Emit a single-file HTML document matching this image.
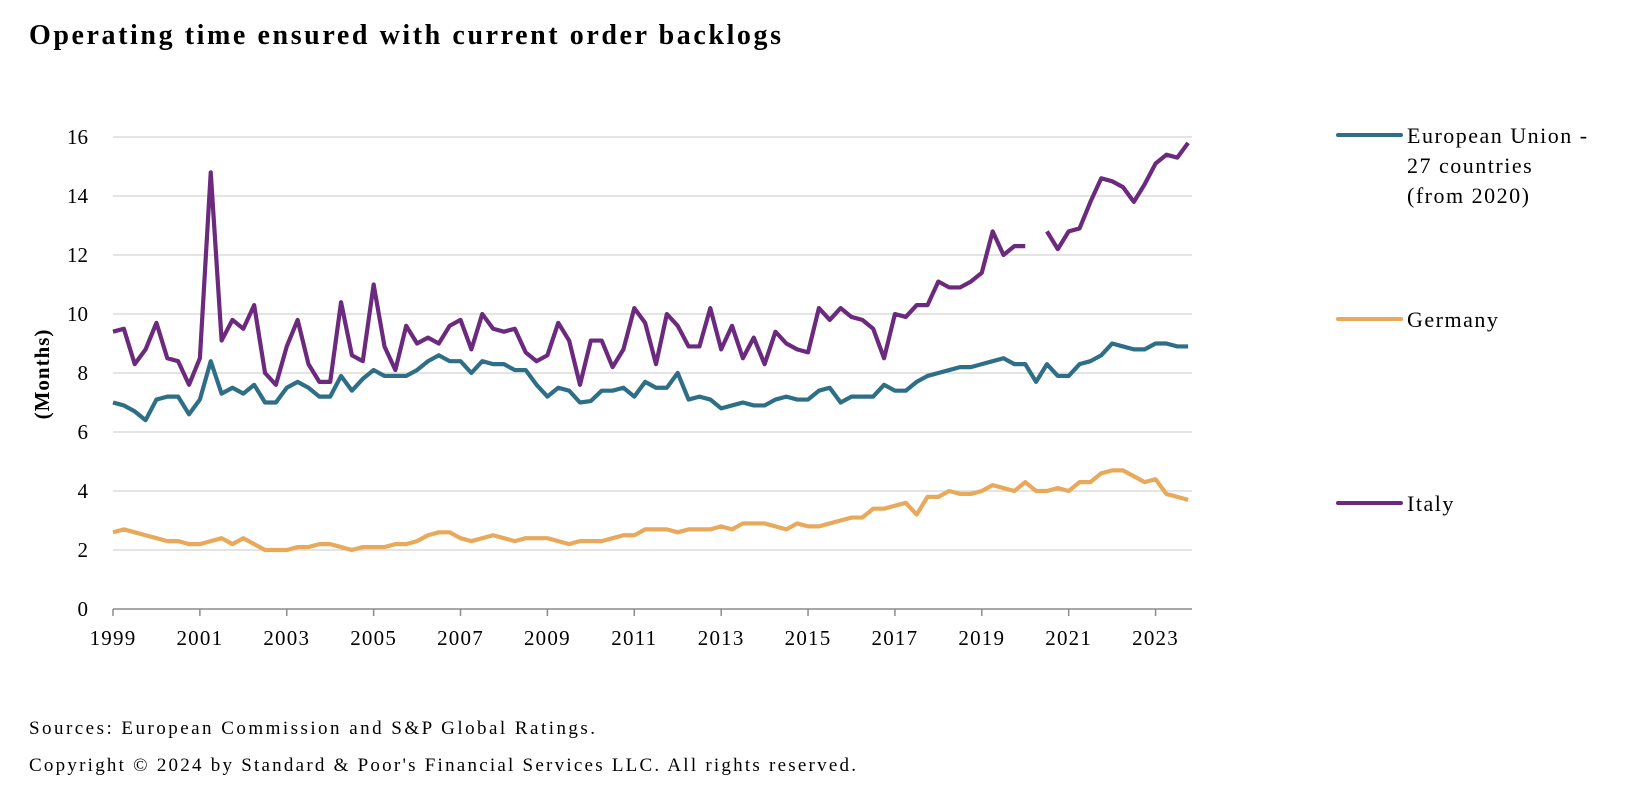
<!DOCTYPE html>
<html><head><meta charset="utf-8"><style>
html,body{margin:0;padding:0;background:#fff;}
svg{display:block;font-family:"Liberation Serif",serif;}
</style></head><body>
<svg id="chart" width="1630" height="804" viewBox="0 0 1630 804">
<text x="29" y="44" font-size="28" font-weight="bold" textLength="752" lengthAdjust="spacing">Operating time ensured with current order backlogs</text>
<g id="grid"></g>
<g id="yticks"></g>
<g id="xticks"></g>
<text transform="translate(49,374) rotate(-90)" text-anchor="middle" font-size="21" font-weight="bold" letter-spacing="1">(Months)</text>
<g id="series"></g>
<g>
<g>
<line x1="1338" y1="135" x2="1401" y2="135" stroke="#2e6f87" stroke-width="4" stroke-linecap="round"/>
<text x="1407" y="143" font-size="22" letter-spacing="1.5">European Union -</text>
<text x="1407" y="173" font-size="22" letter-spacing="1.5">27 countries</text>
<text x="1407" y="203" font-size="22" letter-spacing="1.5">(from 2020)</text>
</g>
<g>
<line x1="1338" y1="319" x2="1401" y2="319" stroke="#e8a95a" stroke-width="4" stroke-linecap="round"/>
<text x="1407" y="327" font-size="22" letter-spacing="1.5">Germany</text>
</g>
<g>
<line x1="1338" y1="503" x2="1401" y2="503" stroke="#6b2a7e" stroke-width="4" stroke-linecap="round"/>
<text x="1407" y="511" font-size="22" letter-spacing="1.5">Italy</text>
</g>
</g>
<text x="29" y="734" font-size="19" textLength="566" lengthAdjust="spacing">Sources: European Commission and S&amp;P Global Ratings.</text>
<text x="29" y="771" font-size="19" textLength="827" lengthAdjust="spacing">Copyright © 2024 by Standard &amp; Poor's Financial Services LLC. All rights reserved.</text>
</svg>
<script>
const yTicks = [0,2,4,6,8,10,12,14,16];
const xTickLabels = ["1999","2001","2003","2005","2007","2009","2011","2013","2015","2017","2019","2021","2023"];
const euValues = [7.0,6.9,6.7,6.4,7.1,7.2,7.2,6.6,7.1,8.4,7.3,7.5,7.3,7.6,7.0,7.0,7.5,7.7,7.5,7.2,7.2,7.9,7.4,7.8,8.1,7.9,7.9,7.9,8.1,8.4,8.6,8.4,8.4,
8.0,8.4,8.3,8.3,8.1,8.1,7.6,7.2,7.5,7.4,7.0,7.05,7.4,7.4,7.5,7.2,7.7,7.5,7.5,8.0,7.1,7.2,7.1,6.8,6.9,7.0,6.9,6.9,7.1,7.2,7.1,
7.1,7.4,7.5,7.0,7.2,7.2,7.2,7.6,7.4,7.4,7.7,7.9,8.0,8.1,8.2,8.2,8.3,8.4,8.5,8.3,8.3,7.7,8.3,7.9,7.9,8.3,8.4,8.6,9.0,8.9,8.8,8.8,9.0,9.0,8.9,8.9];
const germanyValues = [2.6,2.7,2.6,2.5,2.4,2.3,2.3,2.2,2.2,2.3,2.4,2.2,2.4,2.2,2.0,2.0,2.0,2.1,2.1,2.2,2.2,2.1,2.0,2.1,2.1,2.1,2.2,2.2,2.3,2.5,2.6,2.6,2.4,
2.3,2.4,2.5,2.4,2.3,2.4,2.4,2.4,2.3,2.2,2.3,2.3,2.3,2.4,2.5,2.5,2.7,2.7,2.7,2.6,2.7,2.7,2.7,2.8,2.7,2.9,2.9,2.9,2.8,2.7,2.9,
2.8,2.8,2.9,3.0,3.1,3.1,3.4,3.4,3.5,3.6,3.2,3.8,3.8,4.0,3.9,3.9,4.0,4.2,4.1,4.0,4.3,4.0,4.0,4.1,4.0,4.3,4.3,4.6,4.7,4.7,4.5,4.3,4.4,3.9,3.8,3.7];
const italyValues = [9.4,9.5,8.3,8.8,9.7,8.5,8.4,7.6,8.5,14.8,9.1,9.8,9.5,10.3,8.0,7.6,8.9,9.8,8.3,7.7,7.7,10.4,8.6,8.4,11.0,8.9,8.1,9.6,9.0,9.2,9.0,9.6,9.8,
8.8,10.0,9.5,9.4,9.5,8.7,8.4,8.6,9.7,9.1,7.6,9.1,9.1,8.2,8.8,10.2,9.7,8.3,10.0,9.6,8.9,8.9,10.2,8.8,9.6,8.5,9.2,8.3,9.4,9.0,8.8,
8.7,10.2,9.8,10.2,9.9,9.8,9.5,8.5,10.0,9.9,10.3,10.3,11.1,10.9,10.9,11.1,11.4,12.8,12.0,12.3,12.3,null,12.8,12.2,12.8,12.9,13.8,14.6,14.5,14.3,13.8,14.4,15.1,15.4,15.3,15.8];

const NS = "http://www.w3.org/2000/svg";
const X0 = 113, STEP = 10.86, Y0 = 609, YUNIT = 29.5, XEND = 1192;
const xScale = i => X0 + i * STEP;
const yScale = v => Y0 - v * YUNIT;
function mk(tag, attrs, parent){const e=document.createElementNS(NS,tag);for(const k in attrs)e.setAttribute(k,attrs[k]);parent.appendChild(e);return e;}

const grid = document.getElementById('grid'), yt = document.getElementById('yticks'), xt = document.getElementById('xticks');
yTicks.forEach(v => {
  if (v > 0) {
    const l = mk('line',{x1:X0,x2:XEND,y1:yScale(v),y2:yScale(v),stroke:'#d3d3d3','stroke-width':1.3},grid);
    
    
  }
  const t = mk('text',{x:88,y:yScale(v)+7,'text-anchor':'end','font-size':21},yt);
  t.textContent = v;
  
  
});
const ax = mk('line',{x1:X0,x2:XEND,y1:Y0,y2:Y0,stroke:'#8c8c8c','stroke-width':1.5},xt);


xTickLabels.forEach((lab, j) => {
  const x = xScale(j * 8);
  const tk = mk('line',{x1:x,x2:x,y1:Y0,y2:Y0+7,stroke:'#8c8c8c','stroke-width':1.5},xt);
  
  
  const t = mk('text',{x:x,y:645,'text-anchor':'middle','font-size':21,'letter-spacing':1.2},xt);
  t.textContent = lab;
  
  
});

const series = document.getElementById('series');
function drawLine(vals, color, name){
  let d = '', pen = false;
  vals.forEach((v, i) => {
    if (v === null) { pen = false; return; }
    d += (pen ? 'L' : 'M') + xScale(i).toFixed(2) + ',' + yScale(v).toFixed(2);
    pen = true;
  });
  const p = mk('path',{d:d,fill:'none',stroke:color,'stroke-width':4.2,'stroke-linejoin':'round','stroke-linecap':'butt'},series);
  
  
}
drawLine(germanyValues, '#e8a95a', 'germany-line');
drawLine(euValues, '#2e6f87', 'eu-line');
drawLine(italyValues, '#6b2a7e', 'italy-line');
</script>
</body></html>
